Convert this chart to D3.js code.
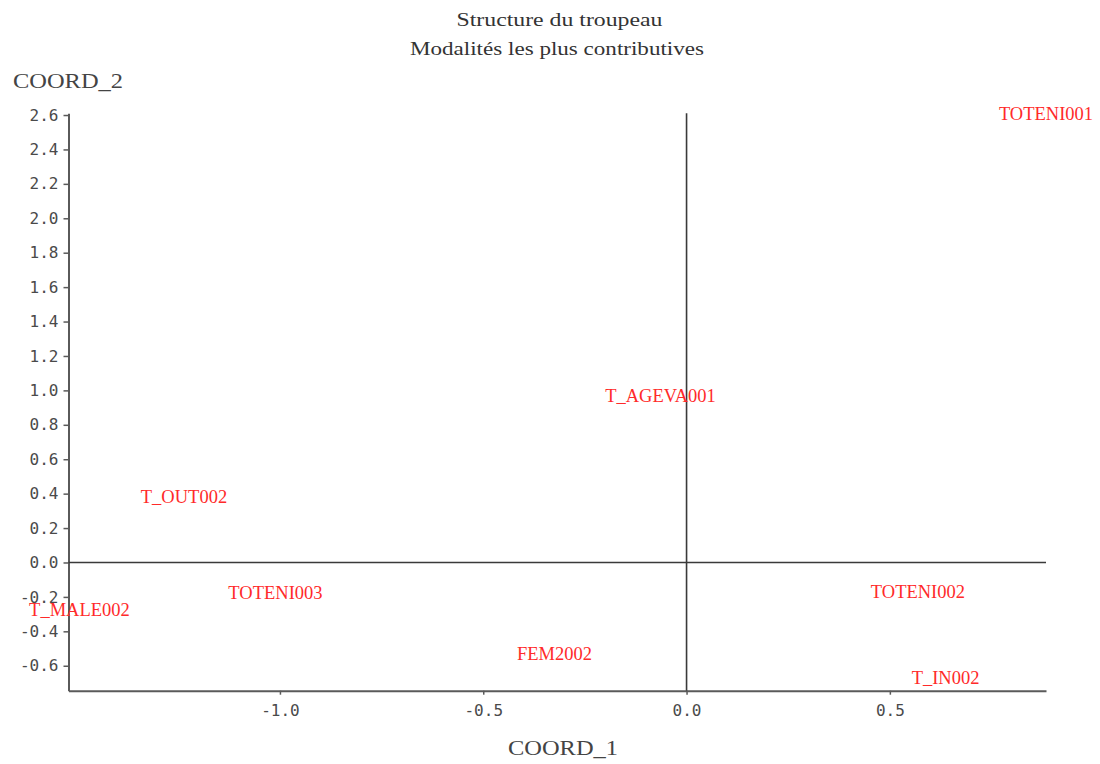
<!DOCTYPE html>
<html>
<head>
<meta charset="utf-8">
<script src="https://cdn.jsdelivr.net/npm/d3@7/dist/d3.min.js"></script>
<style>
  html, body { margin: 0; padding: 0; background: #fff; }
  svg { display: block; }
</style>
</head>
<body>
<svg id="chart" width="1100" height="764"></svg>
<script>
// Correspondence analysis: most contributive modalities (label positions on axes 1 and 2)
const modalities = ["TOTENI001", "T_AGEVA001", "T_OUT002", "TOTENI003", "T_MALE002", "FEM2002", "TOTENI002", "T_IN002"];
const coord1 = [0.884, -0.064, -1.236, -1.011, -1.493, -0.325, 0.569, 0.637];
const coord2 = [2.61, 0.971, 0.384, -0.175, -0.273, -0.529, -0.169, -0.669];

// Axis ranges and ticks
const xRange = [-1.52, 0.884];
const yRange = [-0.745, 2.61];
const xTicks = [-1.0, -0.5, 0.0, 0.5];
const yTicks = [-0.6, -0.4, -0.2, 0.0, 0.2, 0.4, 0.6, 0.8, 1.0, 1.2, 1.4, 1.6, 1.8, 2.0, 2.2, 2.4, 2.6];

const titleLines = ["Structure du troupeau", "Modalités les plus contributives"];
const xTitle = "COORD_1";
const yTitle = "COORD_2";

const svg = d3.select("#chart");
const plot = { left: 68.5, right: 1046, top: 113.3, bottom: 690.7 };

const x = d3.scaleLinear().domain(xRange).range([plot.left, plot.right]);
const y = d3.scaleLinear().domain(yRange).range([plot.bottom, plot.top]);

const fmt = v => d3.format(".1f")(v).replace("\u2212", "-");
const axisColor = "#5a5a5a";
const tickFont = "'DejaVu Sans Mono', 'Liberation Mono', monospace";
const serif = "'Liberation Serif', 'Times New Roman', serif";

// Titles
svg.selectAll("text.title")
  .data(titleLines)
  .join("text")
  .attr("class", "title")
  .attr("x", (d, i) => i === 0 ? 559.5 : 557)
  .attr("y", (d, i) => i === 0 ? 26 : 55)
  .attr("text-anchor", "middle")
  .attr("textLength", (d, i) => i === 0 ? 206 : 294)
  .attr("lengthAdjust", "spacingAndGlyphs")
  .style("font-family", serif)
  .style("font-size", "18px")
  .style("fill", "#333")
  .text(d => d);

// Left axis
const yAxis = d3.axisLeft(y).tickValues(yTicks).tickFormat(fmt).tickSize(5).tickSizeOuter(0);
const gy = svg.append("g").attr("transform", `translate(${plot.left},0)`).call(yAxis);
gy.select(".domain").attr("stroke", axisColor).attr("stroke-width", 2);
gy.selectAll(".tick line").attr("stroke", axisColor).attr("stroke-width", 1.5);
gy.selectAll(".tick text")
  .attr("x", -10)
  .style("font-family", tickFont)
  .style("font-size", "16px")
  .style("fill", "#4a4a4a");

// Bottom axis
const xAxis = d3.axisBottom(x).tickValues(xTicks).tickFormat(fmt).tickSize(4).tickSizeOuter(0);
const gx = svg.append("g").attr("transform", `translate(0,${plot.bottom})`).call(xAxis);
gx.select(".domain").attr("stroke", axisColor).attr("stroke-width", 2);
gx.selectAll(".tick line").attr("stroke", axisColor).attr("stroke-width", 1.5);
gx.selectAll(".tick text")
  .attr("y", 14)
  .style("font-family", tickFont)
  .style("font-size", "16px")
  .style("fill", "#4a4a4a");

// Reference lines through the origin
svg.append("line")
  .attr("x1", x(0)).attr("x2", x(0))
  .attr("y1", y(yRange[1])).attr("y2", y(yRange[0]))
  .attr("stroke", "#3a3a3a").attr("stroke-width", 1.6);
svg.append("line")
  .attr("x1", x(xRange[0])).attr("x2", x(xRange[1]))
  .attr("y1", y(0)).attr("y2", y(0))
  .attr("stroke", "#3a3a3a").attr("stroke-width", 1.6);

// Axis titles
svg.append("text")
  .attr("x", 563).attr("y", 755)
  .attr("text-anchor", "middle")
  .attr("textLength", 110).attr("lengthAdjust", "spacingAndGlyphs")
  .style("font-family", serif)
  .style("font-size", "21px")
  .style("fill", "#444")
  .text(xTitle);
svg.append("text")
  .attr("x", 68).attr("y", 88)
  .attr("text-anchor", "middle")
  .attr("textLength", 110).attr("lengthAdjust", "spacingAndGlyphs")
  .style("font-family", serif)
  .style("font-size", "21px")
  .style("fill", "#444")
  .text(yTitle);

// Modality labels
const points = modalities.map((name, i) => ({ name, c1: coord1[i], c2: coord2[i] }));
svg.selectAll("text.modality")
  .data(points)
  .join("text")
  .attr("class", "modality")
  .attr("x", d => x(d.c1))
  .attr("y", d => y(d.c2))
  .attr("dy", "0.35em")
  .attr("text-anchor", "middle")
  .style("font-family", serif)
  .style("font-size", "18.5px")
  .style("fill", "#ff2a2a")
  .text(d => d.name);
</script>
</body>
</html>
